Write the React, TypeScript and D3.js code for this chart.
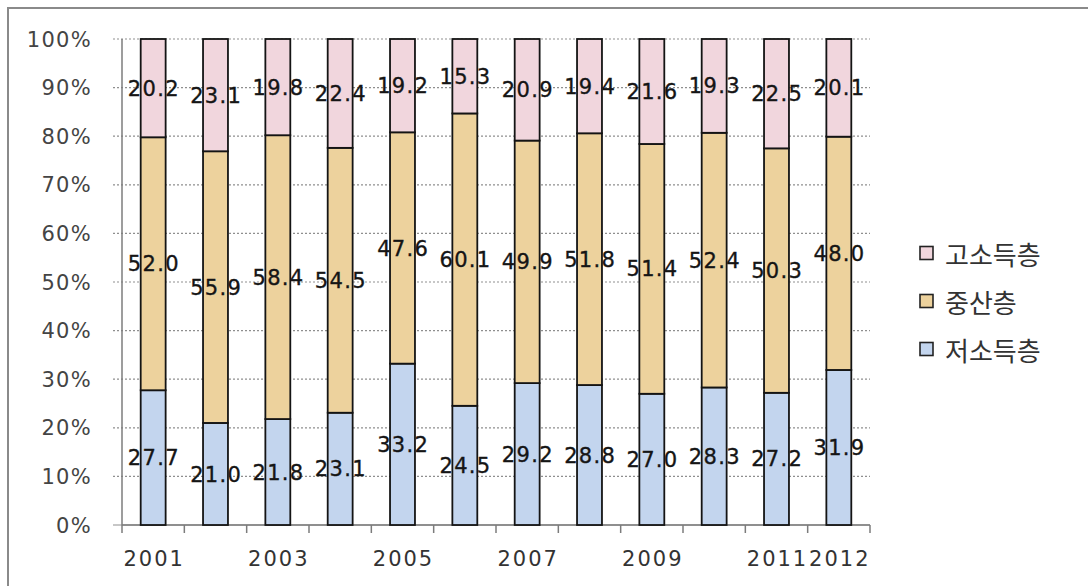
import React from "react";
import * as d3 from "d3";

// Income-class shares by year (%), 100% stacked
const years = ["2001", "2002", "2003", "2004", "2005", "2006", "2007", "2008", "2009", "2010", "2011", "2012"];
const lowIncome = [27.7, 21.0, 21.8, 23.1, 33.2, 24.5, 29.2, 28.8, 27.0, 28.3, 27.2, 31.9];
const middleClass = [52.0, 55.9, 58.4, 54.5, 47.6, 60.1, 49.9, 51.8, 51.4, 52.4, 50.3, 48.0];
const highIncome = [20.2, 23.1, 19.8, 22.4, 19.2, 15.3, 20.9, 19.4, 21.6, 19.3, 22.5, 20.1];

const seriesKeys = ["low", "mid", "high"];
const seriesNames = ["저소득층", "중산층", "고소득층"];
const seriesColors = ["#c3d5ee", "#edd29d", "#f1d6dd"];

// Only some year labels are printed on the category axis
const xTickLabels = ["2001", "", "2003", "", "2005", "", "2007", "", "2009", "", "2011", "2012"];
const yTicks = [0, 0.1, 0.2, 0.3, 0.4, 0.5, 0.6, 0.7, 0.8, 0.9, 1.0];

const W = 1088;
const H = 586;
const plot = { left: 122, right: 870, top: 39, bottom: 525 };
const numFont = "'DejaVu Sans', Verdana, sans-serif";
const krFont = "'Noto Sans CJK KR', 'Noto Sans', sans-serif";

export default function App() {
  const rows = years.map((y, i) => ({
    year: y,
    low: lowIncome[i],
    mid: middleClass[i],
    high: highIncome[i],
  }));
  const rawBySeries: Record<string, number[]> = { low: lowIncome, mid: middleClass, high: highIncome };

  const stacked = d3.stack<any>().keys(seriesKeys).offset(d3.stackOffsetExpand)(rows);

  const x = d3
    .scaleBand<string>()
    .domain(years)
    .range([plot.left, plot.right])
    .paddingInner(0.6)
    .paddingOuter(0.3);
  const y = d3.scaleLinear().domain([0, 1]).range([plot.bottom, plot.top]);
  const fmtPct = d3.format(".0%");
  const step = x.step();
  const boundaries = d3.range(years.length + 1).map((i) => plot.left + i * step);

  const legendRows = [2, 1, 0];

  return (
    <svg
      width={W}
      height={H}
      style={{ position: "absolute", left: 0, top: 0, background: "#fff" }}
    >
      <rect x={0} y={0} width={W} height={H} fill="#fff" />
      {/* outer frame */}
      <rect x={8} y={8} width={W + 20} height={H + 20} fill="none" stroke="#8a8a8a" strokeWidth={2} />

      {/* gridlines and y ticks */}
      {yTicks.map((t) => (
        <line
          key={"g" + t}
          x1={plot.left - 9}
          x2={plot.right}
          y1={y(t)}
          y2={y(t)}
          stroke="#8f8f8f"
          strokeWidth={1.2}
          strokeDasharray={t === 0 ? undefined : "2,2"}
        />
      ))}
      {yTicks.map((t) => (
        <text
          key={"yl" + t}
          x={92}
          y={y(t)}
          dy="0.36em"
          textAnchor="end"
          fontFamily={numFont}
          fontSize={21}
          letterSpacing={1.3}
          fill="#444"
        >
          {fmtPct(t)}
        </text>
      ))}

      {/* axes */}
      <line x1={plot.left} x2={plot.left} y1={plot.top} y2={plot.bottom} stroke="#7c7c7c" strokeWidth={1.5} />
      <line x1={plot.left} x2={plot.right} y1={plot.bottom} y2={plot.bottom} stroke="#7c7c7c" strokeWidth={1.5} />
      {boundaries.map((bx, i) => (
        <line key={"xt" + i} x1={bx} x2={bx} y1={plot.bottom} y2={plot.bottom + 8} stroke="#7c7c7c" strokeWidth={1.5} />
      ))}
      {years.map((yr, i) =>
        xTickLabels[i] ? (
          <text
            key={"xl" + yr}
            x={(x(yr) as number) + x.bandwidth() / 2 + 1}
            y={566}
            textAnchor="middle"
            fontFamily={numFont}
            fontSize={21}
            letterSpacing={2}
            fill="#333"
          >
            {xTickLabels[i]}
          </text>
        ) : null
      )}

      {/* stacked bars */}
      {stacked.map((layer, si) =>
        layer.map((d, i) => (
          <rect
            key={layer.key + i}
            x={x(years[i])}
            y={y(d[1])}
            width={x.bandwidth()}
            height={y(d[0]) - y(d[1])}
            fill={seriesColors[si]}
            stroke="#141414"
            strokeWidth={1.8}
          />
        ))
      )}

      {/* value labels */}
      {stacked.map((layer, si) =>
        layer.map((d, i) => (
          <text
            key={"v" + layer.key + i}
            x={(x(years[i]) as number) + x.bandwidth() / 2 + 0.65}
            y={y((d[0] + d[1]) / 2)}
            dy="0.36em"
            textAnchor="middle"
            fontFamily={numFont}
            fontSize={21}
            letterSpacing={1.3}
            fill="#151515"
            stroke="#151515"
            strokeWidth={0.35}
          >
            {rawBySeries[layer.key as string][i].toFixed(1)}
          </text>
        ))
      )}

      {/* legend */}
      {legendRows.map((si, r) => {
        const cy = 253 + r * 48;
        return (
          <g key={"lg" + si}>
            <rect x={920} y={cy - 6.5} width={13} height={13} fill={seriesColors[si]} stroke="#222" strokeWidth={1.6} />
            <text
              x={945}
              y={cy}
              dominantBaseline="central"
              fontFamily={krFont}
              fontSize={26}
              fill="#333"
            >
              {seriesNames[si]}
            </text>
          </g>
        );
      })}
    </svg>
  );
}
